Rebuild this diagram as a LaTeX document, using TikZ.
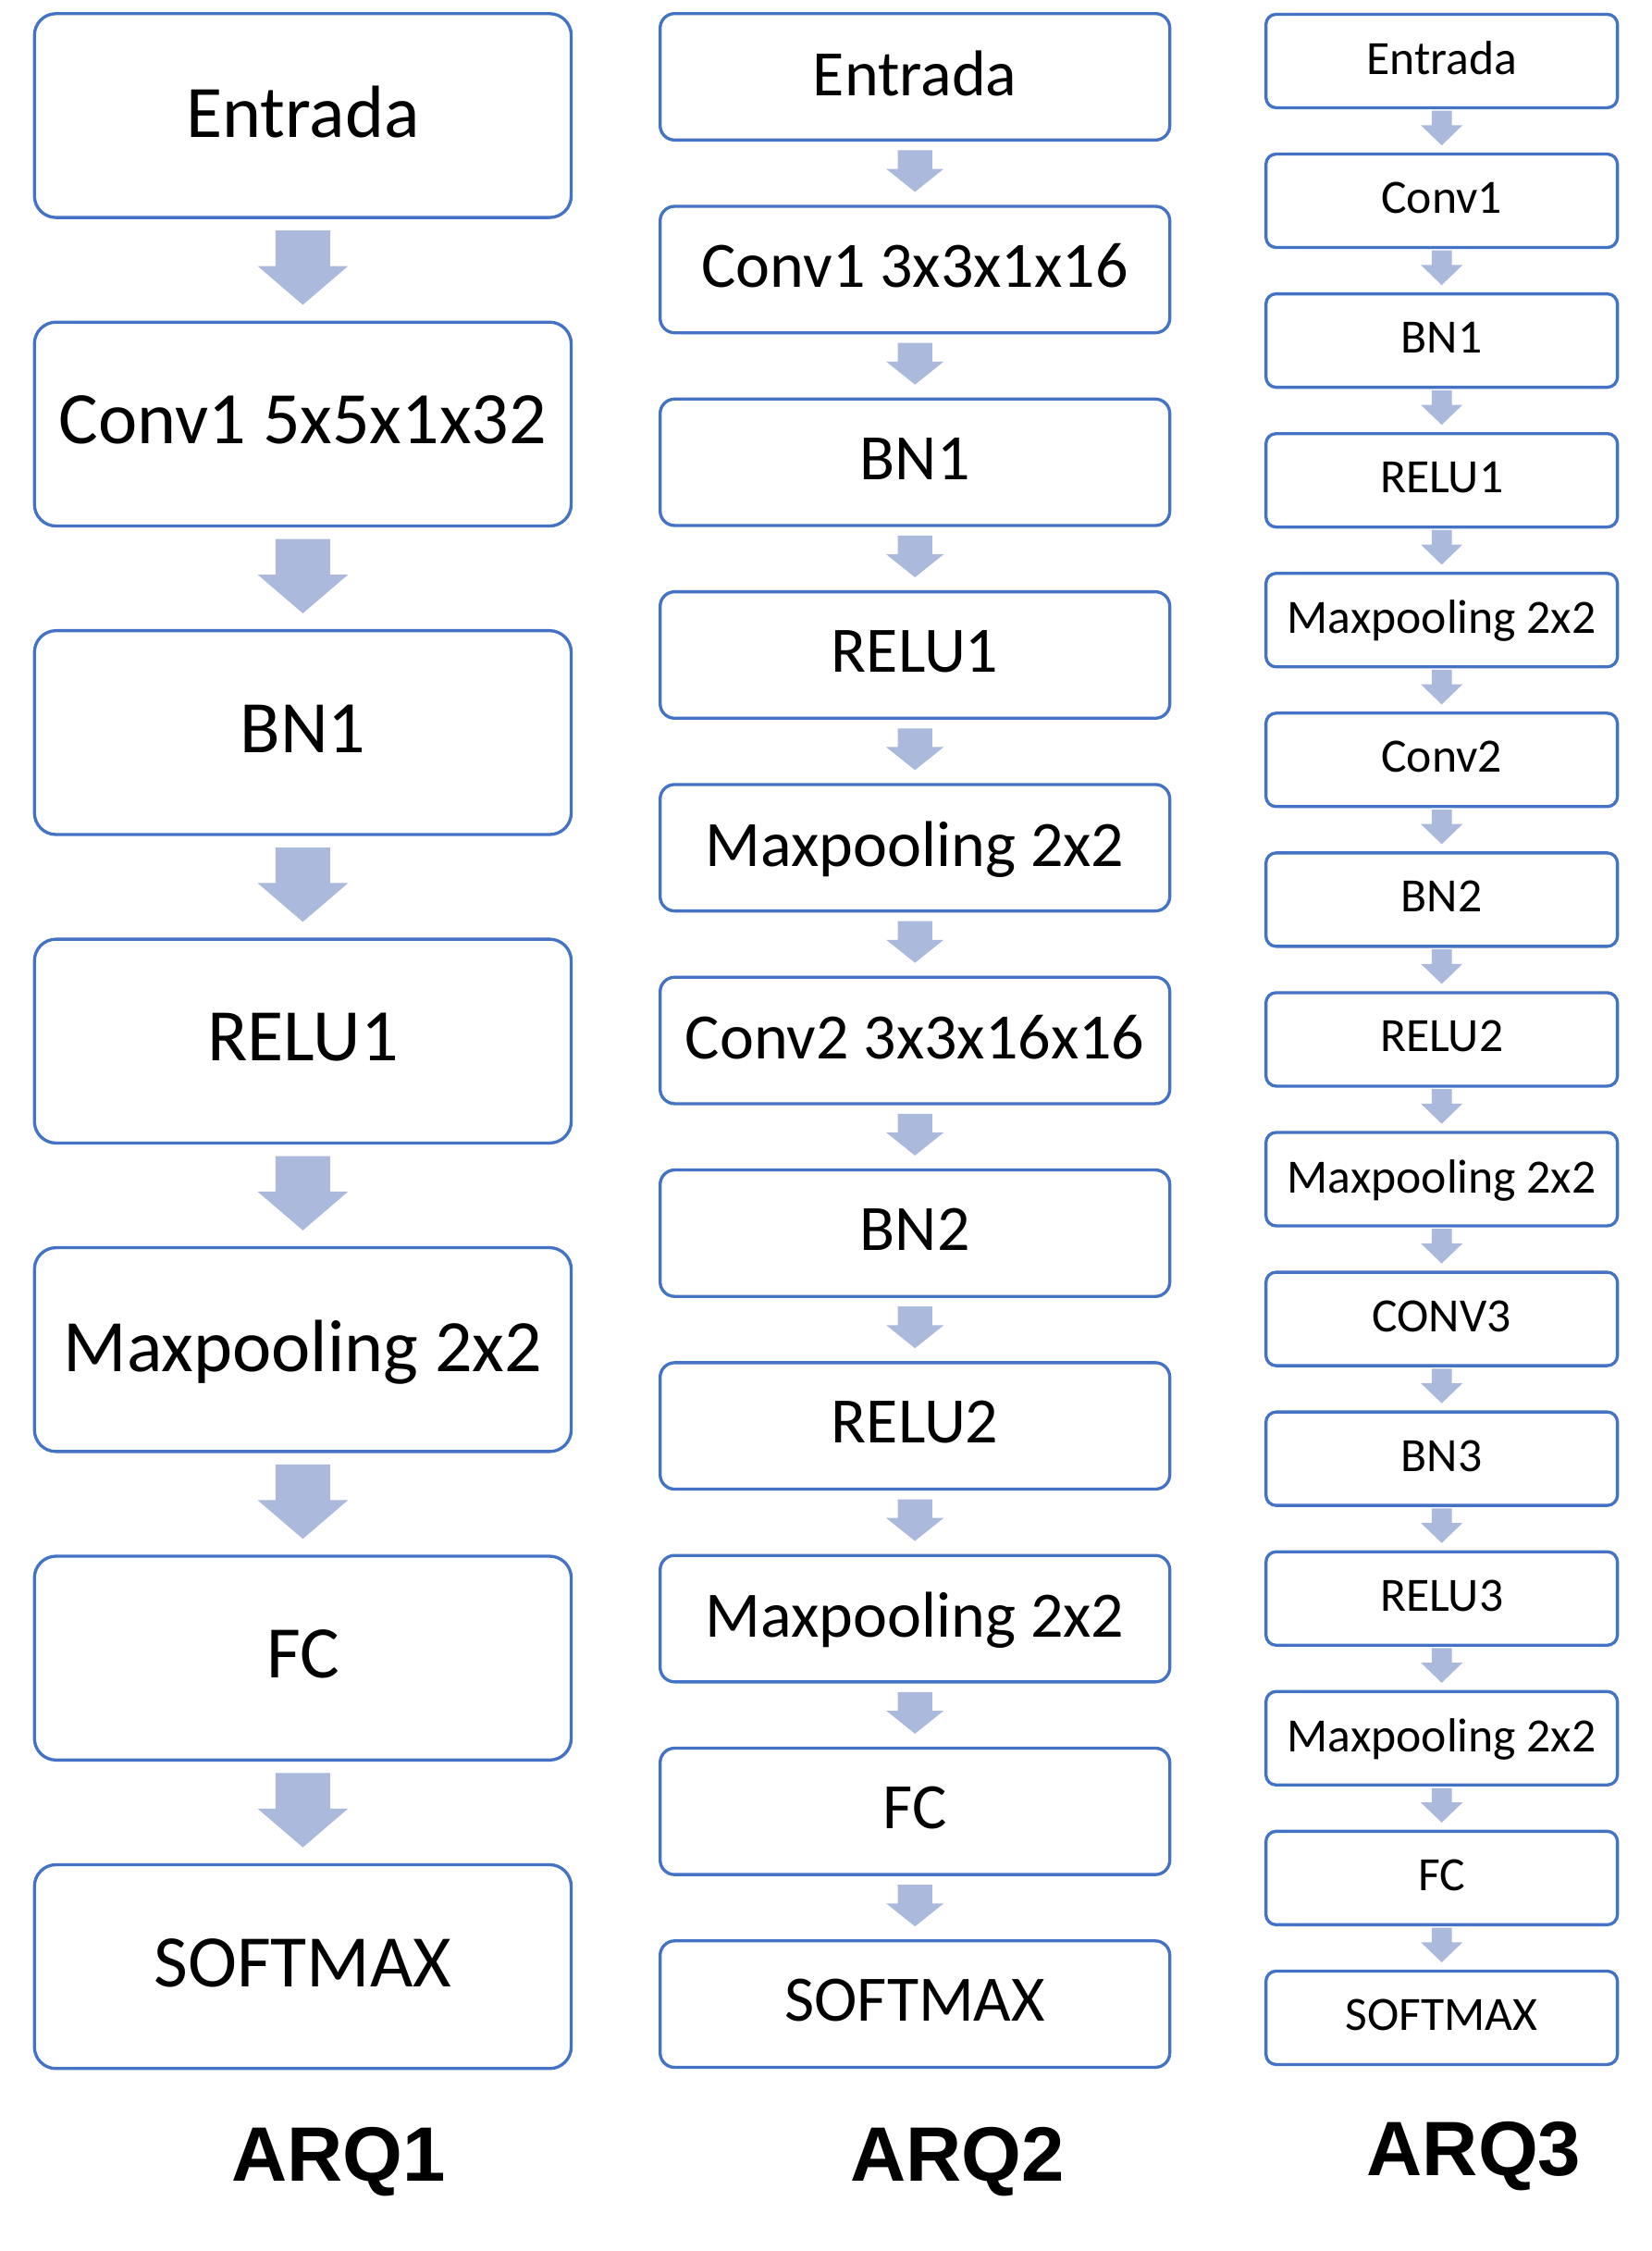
\documentclass[tikz,border=0pt]{standalone}
\usepackage{fontspec}
\setmainfont{Carlito}
\newfontfamily\arqfont{Liberation Sans}
\usetikzlibrary{calc}
\definecolor{boxblue}{RGB}{68,114,196}
\definecolor{arrowblue}{RGB}{170,185,220}
% #1 from node, #2 to node, #3 shaft half width, #4 head half width, #5 head length, #6 top gap, #7 bottom gap
\newcommand{\barrow}[7]{%
  \fill[arrowblue] ($(#1.south)+(-#3,-#6)$) -- ($(#1.south)+(#3,-#6)$)
    -- ($(#2.north)+(#3,#5+#7)$) -- ($(#2.north)+(#4,#5+#7)$)
    -- ($(#2.north)+(0,#7)$)
    -- ($(#2.north)+(-#4,#5+#7)$) -- ($(#2.north)+(-#3,#5+#7)$) -- cycle;}
\begin{document}
\begin{tikzpicture}[x=0.4655pt,y=0.4655pt,
  box/.style={draw=boxblue, line width=1pt, fill=white, align=center, inner sep=0pt, text=black},
  boxA/.style={box, minimum width=174.1pt, minimum height=66.1pt, rounded corners=7pt, text depth=2.6pt, font=\fontsize{24}{28}\selectfont},
  boxB/.style={box, minimum width=165.3pt, minimum height=41pt, rounded corners=4.7pt, text depth=2.4pt, font=\fontsize{21}{25}\selectfont},
  boxC/.style={box, minimum width=114pt, minimum height=30.3pt, rounded corners=3.3pt, text depth=2pt, font=\fontsize{15.5}{18}\selectfont},
  arq/.style={font=\arqfont\bfseries\fontsize{25}{30}\selectfont, inner sep=0pt}]
\useasboundingbox (0,0) rectangle (1151,-1568);
\fill[white] (0,0) rectangle (1151,-1568);
% column 1
\foreach \t [count=\i from 0] in {Entrada,Conv1 5x5x1x32,BN1,RELU1,Maxpooling 2x2,FC,SOFTMAX}
  \node[boxA] (a\i) at (211,{-(80.5+\i*214.9)}) {\t};
\foreach \i [count=\j from 1] in {0,...,5}
  \barrow{a\i}{a\j}{19}{31.5}{27}{8}{11};
% column 2
\foreach \t [count=\i from 0] in {Entrada,Conv1 3x3x1x16,BN1,RELU1,Maxpooling 2x2,Conv2 3x3x16x16,BN2,RELU2,Maxpooling 2x2,FC,SOFTMAX}
  \node[boxB] (b\i) at (637.5,{-(53.5+\i*134.25)}) {\t};
\foreach \i [count=\j from 1] in {0,...,9}
  \barrow{b\i}{b\j}{12}{20}{16}{6}{9};
% column 3
\foreach \t [count=\i from 0] in {Entrada,Conv1,BN1,RELU1,Maxpooling 2x2,Conv2,BN2,RELU2,Maxpooling 2x2,CONV3,BN3,RELU3,Maxpooling 2x2,FC,SOFTMAX}
  \node[boxC] (c\i) at (1004.5,{-(42.5+\i*97.36)}) {\t};
\foreach \i [count=\j from 1] in {0,...,13}
  \barrow{c\i}{c\j}{7}{14.5}{14}{1}{5};
% labels
\node[arq] (l1) at (236,-1506) {ARQ1};
\node[arq] (l2) at (667,-1506) {ARQ2};
\node[arq] (l3) at (1027,-1502) {ARQ3};
\end{tikzpicture}
\end{document}
